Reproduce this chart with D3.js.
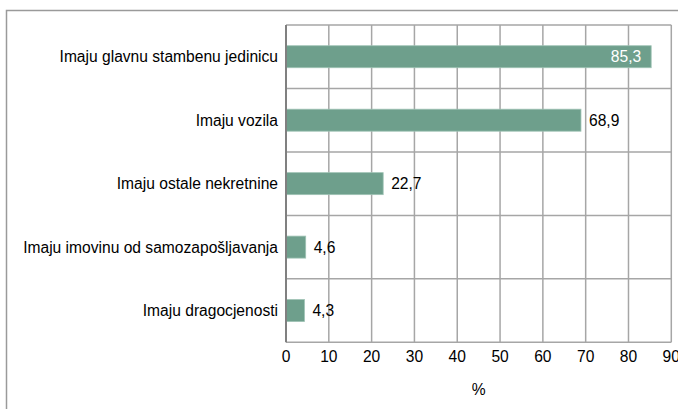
<!DOCTYPE html>
<html>
<head>
<meta charset="utf-8">
<script src="https://cdn.jsdelivr.net/npm/d3@7/dist/d3.min.js"></script>
<style>
html,body{margin:0;padding:0;background:#fff;}
svg{display:block;font-family:"Liberation Sans",Arial,sans-serif;}
</style>
</head>
<body>
<svg id="chart" width="678" height="409"></svg>
<script>
const categories = ["Imaju glavnu stambenu jedinicu","Imaju vozila","Imaju ostale nekretnine","Imaju imovinu od samozapošljavanja","Imaju dragocjenosti"];
const values = [85.3, 68.9, 22.7, 4.6, 4.3];
const valueLabels = ["85,3","68,9","22,7","4,6","4,3"];
const xTicks = [0,10,20,30,40,50,60,70,80,90];
const axisTitle = "%";

(function(){
const svg = d3.select("#chart");
const pL = 286, pR = 671.3, pT = 25, pB = 342.3;
const fs = 15.6;

svg.append("rect").attr("x",6.5).attr("y",10.5).attr("width",700).attr("height",420)
  .attr("fill","none").attr("stroke","#9a9a9a").attr("stroke-width",1.5);

const x = d3.scaleLinear().domain([0,90]).range([pL,pR]);
const y = d3.scaleBand().domain(categories).range([pT,pB]).paddingInner(0).paddingOuter(0);

const g = svg.append("g");
const bounds = categories.map(c=>y(c)).concat([pB]);
g.selectAll("line.h").data(bounds).join("line")
  .attr("x1",pL).attr("x2",pR).attr("y1",d=>d).attr("y2",d=>d)
  .attr("stroke","#a6a6a6").attr("stroke-width",1.5);
g.selectAll("line.v").data(xTicks.slice(1)).join("line")
  .attr("x1",d=>x(d)).attr("x2",d=>x(d)).attr("y1",pT).attr("y2",pB)
  .attr("stroke","#a6a6a6").attr("stroke-width",1.5);

const bh = 22;
g.selectAll("rect.bar").data(values).join("rect")
  .attr("x",pL).attr("y",(d,i)=>y(categories[i])+y.bandwidth()/2-bh/2)
  .attr("width",d=>x(d)-pL).attr("height",bh)
  .attr("fill","#6e9f8c").attr("stroke","#9fc3b5").attr("stroke-width",0.8);

g.append("line").attr("x1",pL).attr("x2",pL).attr("y1",pT).attr("y2",pB)
  .attr("stroke","#808080").attr("stroke-width",2);

g.selectAll("text.val").data(values).join("text")
  .attr("x",(d,i)=> i===0 ? x(d)-10 : x(d)+8)
  .attr("y",(d,i)=>y(categories[i])+y.bandwidth()/2)
  .attr("dy","0.35em")
  .attr("text-anchor",(d,i)=> i===0 ? "end":"start")
  .attr("fill",(d,i)=> i===0 ? "#ffffff":"#000")
  .attr("font-size",fs)
  .text((d,i)=>valueLabels[i]);

g.selectAll("text.cat").data(categories).join("text")
  .attr("x",pL-8).attr("y",d=>y(d)+y.bandwidth()/2).attr("dy","0.35em")
  .attr("text-anchor","end").attr("font-size",fs).attr("fill","#000").text(d=>d);

g.selectAll("text.tick").data(xTicks).join("text")
  .attr("x",d=>x(d)).attr("y",357).attr("dy","0.35em")
  .attr("text-anchor","middle").attr("font-size",fs).attr("fill","#000").text(d=>d);

svg.append("text").attr("x",(pL+pR)/2).attr("y",390).attr("dy","0.35em")
  .attr("text-anchor","middle").attr("font-size",fs).attr("fill","#000").text(axisTitle);
})();
</script>
</body>
</html>
